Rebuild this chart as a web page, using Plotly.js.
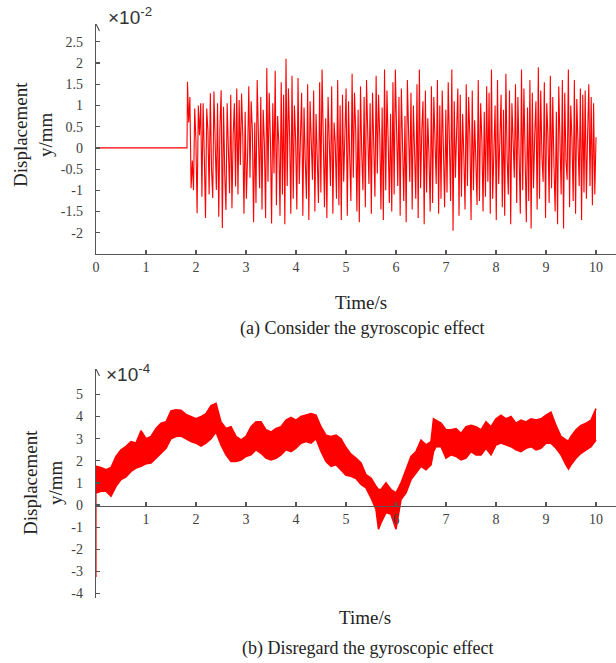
<!DOCTYPE html>
<html>
<head>
<meta charset="utf-8">
<script src="https://cdn.plot.ly/plotly-3.0.1.min.js"></script>
<style>html,body{margin:0;padding:0;background:#fff;}#chart{width:616px;height:663px;}</style>
</head>
<body>
<div id="chart"></div>
<script>
// ---------- Data: (a) Consider the gyroscopic effect (x10^-2 mm) ----------
const zeroTimesA = [0, 1.82];
const zeroValsA = [0, 0];
const startA = 1.83;
const endA = 10.0;
const valsA = [
  1.56, 0.6, 1.2, -0.95, -0.3, -1.0, 0.93, 0.2, -1.54, 1.0, 0.3, 1.05, -1.15, 1.05, -0.2, -1.65, 0.93, 0.4, -1.1, 1.29, -0.5, -1.18, 1.33, 0.1, -0.99, 1.05, -1.62, 0.5, 1.36, -1.89, 0.97, -0.6, -1.46, 1.05, 0.2, -1.07, 1.25, -1.42, 0.3, 1.05, -0.91,
  1.4, -1.1, 1.13, -0.4, 1.28, 0.3, -1.55, 0.85, -1.2, -0.2, 1.45, -0.7, 1.1, 0.4, -1.75, 0.6, -1.3, 1.6, -0.2, -0.95, 1.2, -1.45, 0.9, 0.1, -1.65, 1.88, -0.8, 1.3, 0.2, -1.78, 1.05, -0.6, 1.82, -1.35, 0.75, 0.1, -1.6, 1.55, -1.1, 1.25, -1.8, 2.1, -0.9, 1.4, 0.3, -1.55, 1.7, -1.2,
  1.0, 0.2, -1.45, 1.65, -0.85, 0.3, 1.3, -1.6, 0.95, -0.3, -1.2, 1.5, -1.7, 1.1, 0.2, -0.75, 1.35, -1.5, 0.8, -0.4, -1.3, 1.55, -1.05, 1.85, 0.1, -1.4, 0.7, -1.65, 1.2, -0.3, -0.9, 1.45, -1.55, 0.6, 0.1, -1.2, 1.6, -1.35, 1.0, -1.7, 1.25,
  -0.8, 0.3, 1.4, -1.6, 1.1, -0.2, -1.25, 1.75, -0.7, 1.3, 0.4, -1.5, 0.9, -1.75, 1.45, -0.1, -1.0, 1.2, -1.4, 1.6, 0.2, -0.85, 1.05, -1.55, 1.3, -0.4, -1.15, 1.7, -0.6, 1.25, 0.3, -1.45, 0.95, -1.7, 1.85, -1.0, 1.35, 0.2, -1.3, 0.8, -1.5,
  1.55, -1.1, 1.85, 0.3, -0.9, 1.2, -1.6, 1.4, -0.2, -1.25, 0.75, -1.75, 1.6, 0.1, -0.8, 1.3, -1.45, 1.0, -0.3, -1.2, 1.5, -1.65, 1.85, -0.95, 0.4, 1.1, -1.8, 1.35, -1.05, 0.7, -0.2, -1.5, 1.45, -1.3, 1.2, 0.3, -0.85, 1.6, -1.55, 1.0,
  -1.2, 1.35, -0.3, -1.4, 0.9, -1.05, 1.55, 0.2, -1.25, 1.85, -1.95, 1.1, -0.7, 0.4, 1.4, -1.6, 1.25, -1.15, 0.8, -0.2, -1.45, 1.5, -0.9, 1.2, 0.3, -1.7, 1.35, -1.0, 0.65, -0.3, -1.35, 1.6, -1.25, 1.05, 0.2, -1.5, 0.85, -1.15, 1.45, -0.8,
  1.3, -1.55, 1.85, -1.2, 0.2, 1.0, -1.7, 1.6, -0.85, 0.3, 1.25, -1.4, 0.9, -1.6, 1.75, -0.2, -1.1, 1.35, -1.8, 1.05, 0.2, -0.7, 1.5, -1.3, 1.2, -0.3, -1.55, 1.85, -1.0, 1.4, 0.1, -1.75, 0.95, -1.25, 1.6, -1.9, 1.3, -0.95, 0.3, 1.1,
  -1.45, 1.9, -1.2, 1.35, -0.2, -0.8, 1.55, -1.65, 1.05, 0.3, -1.3, 1.7, -0.95, 1.2, -0.4, -1.5, 0.85, -1.8, 1.45, 0.2, -1.1, 1.6, -1.9, 1.3, -0.3, -0.75, 1.85, -1.4, 1.0, 0.2, -1.25, 1.6, -1.55, 1.15, -0.1, -0.9, 1.4, -1.7, 1.25, -1.05,
  1.35, -1.2, 0.3, 1.5, -0.9, 1.2, -1.35, 1.05, -1.1, 0.25
];
const tickValsA_y = [-2, -1.5, -1, -0.5, 0, 0.5, 1, 1.5, 2, 2.5];
const tickTextA_y = ['-2', '-1.5', '-1', '-0.5', '0', '0.5', '1', '1.5', '2', '2.5'];
const tickValsA_x = [0, 1, 2, 3, 4, 5, 6, 7, 8, 9, 10];

// ---------- Data: (b) Disregard the gyroscopic effect (x10^-4 mm) ----------
const timesB = [0,0.1,0.2,0.3,0.4,0.5,0.6,0.7,0.8,0.9,1.0,1.1,1.2,1.3,1.4,1.5,1.6,1.7,1.8,1.9,2.0,2.1,2.2,2.3,2.4,2.5,2.6,2.7,2.8,2.9,3.0,3.1,3.2,3.3,3.4,3.5,3.6,3.7,3.8,3.9,4.0,4.1,4.2,4.3,4.4,4.5,4.6,4.7,4.8,4.9,5.0,5.1,5.2,5.3,5.4,5.5,5.6,5.65,5.7,5.8,5.9,6.0,6.1,6.2,6.3,6.4,6.5,6.6,6.7,6.75,6.8,6.9,7.0,7.1,7.2,7.3,7.4,7.5,7.6,7.7,7.8,7.9,8.0,8.1,8.2,8.3,8.4,8.5,8.6,8.7,8.8,8.9,9.0,9.1,9.2,9.3,9.4,9.45,9.5,9.6,9.7,9.8,9.9,10.0];
const upperB = [1.75,1.7,1.6,1.7,2.2,2.5,2.65,2.87,2.8,3.36,3.0,3.1,3.46,3.7,3.76,4.25,4.3,4.28,4.1,4.0,3.9,4.0,4.13,4.5,4.6,3.76,3.46,3.54,3.1,2.94,3.1,3.54,3.76,3.76,3.4,3.3,3.46,3.54,3.84,3.96,3.84,4.0,4.06,4.13,4.06,3.54,3.16,3.1,3.16,3.0,2.6,2.3,2.12,1.9,1.37,1.22,0.85,0.7,0.7,1.0,0.7,0.55,1.0,1.6,2.2,2.42,2.94,2.72,2.87,3.9,3.84,3.7,3.4,3.4,3.46,3.24,3.54,3.6,3.54,3.4,3.76,3.54,3.9,4.06,3.9,4.0,3.7,3.84,3.76,3.9,3.84,3.9,4.06,4.2,3.6,3.1,2.94,2.9,3.1,3.4,3.6,3.7,3.84,4.36];
const lowerB = [0.55,0.63,0.63,0.4,0.85,1.15,1.27,1.52,1.67,1.75,1.87,1.9,2.12,2.34,2.57,3.0,3.1,3.12,3.0,2.87,2.8,2.67,2.8,3.0,3.3,2.72,2.27,1.97,1.97,2.04,2.2,2.27,2.5,2.34,2.12,2.04,2.12,2.27,2.5,2.42,2.57,2.8,2.87,2.8,3.0,2.42,1.97,1.75,1.82,1.6,1.35,1.3,1.2,0.93,0.78,0.33,-0.2,-1.09,-0.8,-0.34,-0.42,-1.09,0.25,0.55,1.15,1.45,1.75,1.6,1.82,2.42,2.64,2.64,2.12,2.27,2.2,2.04,2.12,2.42,2.27,2.27,2.57,2.27,2.72,2.8,2.72,2.64,2.5,2.42,2.57,2.64,2.5,2.57,2.8,2.8,2.57,2.27,1.82,1.63,1.82,2.12,2.34,2.5,2.64,2.94];
const spikeTimesB = [0, 0];
const spikeValsB = [1.0, -3.25];
const tickValsB_y = [-4, -3, -2, -1, 0, 1, 2, 3, 4, 5];
const tickTextB_y = ['-4', '-3', '-2', '-1', '0', '1', '2', '3', '4', '5'];
const tickValsB_x = [1, 2, 3, 4, 5, 6, 7, 8, 9, 10];

// ---------- Build traces ----------
const dtA = (endA - startA) / (valsA.length - 1);
const xA = zeroTimesA.concat(valsA.map((v, i) => startA + i * dtA));
const yA = zeroValsA.concat(valsA);

const RED = '#ff0000';
const traces = [
  {x: xA, y: yA, type: 'scatter', mode: 'lines', line: {color: RED, width: 1.1}, xaxis: 'x', yaxis: 'y', hoverinfo: 'skip'},
  {x: timesB, y: lowerB, type: 'scatter', mode: 'lines', line: {color: RED, width: 1.6}, xaxis: 'x2', yaxis: 'y2', hoverinfo: 'skip'},
  {x: timesB, y: upperB, type: 'scatter', mode: 'lines', fill: 'tonexty', fillcolor: RED, line: {color: RED, width: 1.6}, xaxis: 'x2', yaxis: 'y2', hoverinfo: 'skip'},
  {x: spikeTimesB, y: spikeValsB, type: 'scatter', mode: 'lines', line: {color: RED, width: 1.2}, xaxis: 'x2', yaxis: 'y2', hoverinfo: 'skip'}
];

const SERIF = 'Liberation Serif, Times New Roman, serif';
const SANS = 'Liberation Sans, Arial, sans-serif';
const AX = '#555555';
const tickFont = {family: SERIF, size: 14, color: '#404040'};
const base = {
  showline: true, linecolor: AX, linewidth: 1.3, ticks: 'inside', ticklen: 4, tickwidth: 1.2, tickcolor: AX,
  showgrid: false, zeroline: false, tickfont: tickFont, fixedrange: true
};
const W = 616, H = 663, L = 96;
const px = v => (v - L) / (W - L);
const py = v => (H - v) / H;

const arrowPath = 'M -3.5,-7 L 0,0 L 3.5,-7';
const layout = {
  width: W, height: H,
  margin: {l: L, r: 0, t: 0, b: 0},
  paper_bgcolor: '#fff', plot_bgcolor: '#fff',
  showlegend: false,
  xaxis: Object.assign({}, base, {domain: [0, 1], range: [0, 10.4], anchor: 'y', tickmode: 'array', tickvals: tickValsA_x}),
  yaxis: Object.assign({}, base, {domain: [py(254), py(24)], range: [-2.5, 2.92], anchor: 'x', tickmode: 'array', tickvals: tickValsA_y, ticktext: tickTextA_y, ticklabelstandoff: 9}),
  xaxis2: Object.assign({}, base, {domain: [0, 1], range: [0, 10.4], anchor: 'free', position: py(505.7), tickmode: 'array', tickvals: tickValsB_x}),
  yaxis2: Object.assign({}, base, {domain: [py(598), py(369)], range: [-4.2, 6.15], anchor: 'x2', tickmode: 'array', tickvals: tickValsB_y, ticktext: tickTextB_y, ticklabelstandoff: 9}),
  shapes: [
    {type: 'path', xref: 'x', yref: 'y', xsizemode: 'pixel', ysizemode: 'pixel', xanchor: 0, yanchor: 2.92, path: arrowPath, line: {color: AX, width: 1.2}},
    {type: 'path', xref: 'x2', yref: 'y2', xsizemode: 'pixel', ysizemode: 'pixel', xanchor: 0, yanchor: 6.15, path: arrowPath, line: {color: AX, width: 1.2}}
  ],
  annotations: [
    {xref: 'paper', yref: 'paper', x: px(106), y: py(16), xanchor: 'left', yanchor: 'middle', showarrow: false, text: '×10<sup>-2</sup>', font: {family: SANS, size: 19, color: '#333'}},
    {xref: 'paper', yref: 'paper', x: px(104), y: py(373), xanchor: 'left', yanchor: 'middle', showarrow: false, text: '×10<sup>-4</sup>', font: {family: SANS, size: 19, color: '#333'}},
    {xref: 'paper', yref: 'paper', x: px(33), y: py(135), xanchor: 'center', yanchor: 'middle', showarrow: false, textangle: -90, text: 'Displacement<br>y/mm', font: {family: SERIF, size: 19, color: '#222'}},
    {xref: 'paper', yref: 'paper', x: px(43), y: py(483), xanchor: 'center', yanchor: 'middle', showarrow: false, textangle: -90, text: 'Displacement<br>y/mm', font: {family: SERIF, size: 19, color: '#222'}},
    {xref: 'paper', yref: 'paper', x: px(361), y: py(302), xanchor: 'center', yanchor: 'middle', showarrow: false, text: 'Time/s', font: {family: SERIF, size: 19, color: '#222'}},
    {xref: 'paper', yref: 'paper', x: px(365), y: py(617), xanchor: 'center', yanchor: 'middle', showarrow: false, text: 'Time/s', font: {family: SERIF, size: 19, color: '#222'}},
    {xref: 'paper', yref: 'paper', x: px(362), y: py(328), xanchor: 'center', yanchor: 'middle', showarrow: false, text: '(a) Consider the gyroscopic effect', font: {family: SERIF, size: 18, color: '#222'}},
    {xref: 'paper', yref: 'paper', x: px(368), y: py(648), xanchor: 'center', yanchor: 'middle', showarrow: false, text: '(b) Disregard the gyroscopic effect', font: {family: SERIF, size: 18, color: '#222'}}
  ]
};

Plotly.newPlot('chart', traces, layout, {staticPlot: true, displayModeBar: false});
</script>
</body>
</html>
